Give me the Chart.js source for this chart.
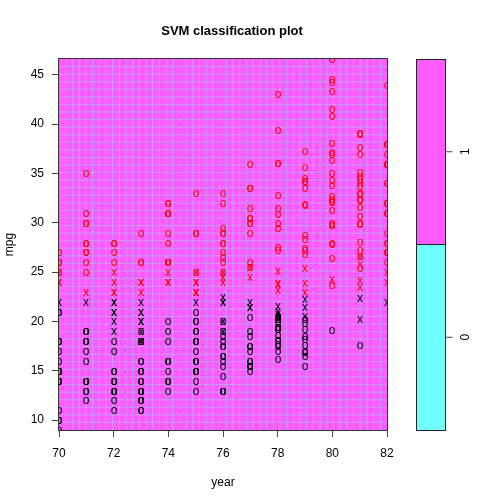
<!DOCTYPE html>
<html><head><meta charset="utf-8">
<script src="https://cdn.jsdelivr.net/npm/chart.js@4/dist/chart.umd.min.js"></script>
<style>html,body{margin:0;padding:0;background:#fff}canvas{display:block}</style>
</head><body>
<canvas id="c" width="504" height="504"></canvas>
<script>
// ---- data (mpg by model year; symbol codes: o = class 0 point, x = class 0 support vector,
//      O = class 1 point, X = class 1 support vector) ----
const years = [70,71,72,73,74,75,76,77,78,79,80,81,82];
const mpg70 = [18,15,18,16,17,15,14,14,14,15,15,14,15,14,24,22,18,21,27,26,25,24,25,26,21,10,10,11,9];
const sym70 = "ooooooooooooooXxooOOXXOOooooo";
const mpg71 = [27,28,25,19,16,17,19,18,14,14,14,14,12,13,13,18,22,19,18,23,28,30,30,31,35,27,26];
const sym71 = "OOOoooooooooooooxooXOOOOOOO";
const mpg72 = [24,25,23,20,21,13,14,15,14,17,11,13,12,13,19,15,13,13,14,18,22,21,26,22,28,23,28,27];
const sym72 = "XXXxxoooooooooxoooooxxOxOXOO";
const mpg73 = [13,14,13,14,15,12,13,13,14,13,12,13,18,16,18,18,23,26,11,12,13,12,18,20,21,22,18,19,21,26,15,16,29,24,20,19,15,24,20,11];
const sym73 = "ooooooooooooxooxXOoooooxxxoxxOooOXxooXxo";
const mpg74 = [20,19,15,31,26,32,25,16,16,18,16,13,14,14,14,29,26,26,31,32,28,24,26,24,26,31];
const sym74 = "oooOOOXooooooooOOOOOOXOXOO";
const mpg75 = [19,18,15,15,16,15,16,14,17,16,15,18,21,20,13,29,23,20,23,24,25,24,18,29,19,23,23,22,25,33];
const sym75 = "oooooooooooooooOXoXXXXoOoXXxOO";
const mpg76 = [28,25,25,26,27,17.5,16,15.5,14.5,22,22,24,22.5,29,24.5,29,33,20,18,18.5,17.5,29.5,32,28,26.5,20,13,19,19,16.5,16.5,13,13,13];
const sym76 = "OXOOOooooxxXxOXOOxoooOOOOooxoooooo";
const mpg77 = [17.5,17,15.5,15,17.5,20.5,19,18.5,16,15.5,15.5,16,29,24.5,26,25.5,30.5,33.5,30,30.5,22,21.5,21.5,36,25.5,33.5,31.5,30];
const sym77 = "ooooooooooooOXOXOOOOxxxOOOOO";
const mpg78 = [43.1,36.1,32.8,39.4,36.1,19.9,19.4,20.2,19.2,20.5,20.2,25.1,20.5,19.4,20.6,20.8,18.6,18.1,19.2,17.7,18.1,17.5,30,27.5,27.2,30.9,21.1,23.2,23.8,23.9,20.3,17,21.6,16.2,31.5,29.5];
const sym78 = "OOOOOooooxoXoooxooooooOOOOxXXXooxoOO";
const mpg79 = [21.5,19.8,22.3,20.2,20.6,17,17.6,16.5,18.2,16.9,15.5,19.2,18.5,31.9,34.1,35.7,27.4,25.4,23,27.2,23.9,34.2,34.5,31.8,37.3,28.4,28.8,26.8,33.5];
const sym79 = "xoxoxooooooooOOOOXXOXOOOOOOOO";
const mpg80 = [41.5,38.1,32.1,37.2,28,26.4,24.3,19.1,34.3,29.8,31.3,37,32.2,46.6,27.9,40.8,44.3,43.4,36.4,30,44.6,33.8,29.8,32.7,23.7,35,32.4];
const sym80 = "OOOOOOXoOOOOOOOOOOOOOOOOOOO";
const mpg81 = [27.2,26.6,25.8,23.5,30,39.1,39,35.1,32.3,37,37.7,34.1,34.7,34.4,29.9,33,33.7,32.4,32.9,31.6,28.1,30.7,25.4,24.2,22.4,26.6,20.2,17.6];
const sym81 = "OOXXOOOOOOOOOOOOOOOOOOOXxXxo";
const mpg82 = [28,27,34,31,29,27,24,36,37,31,38,36,36,36,34,38,32,38,25,38,26,22,32,36,27,27,44,32,28,31];
const sym82 = "OOOOOOXOOOOOOOOOOOXOOxOOOOOOOO";

const mpgByYear = [mpg70,mpg71,mpg72,mpg73,mpg74,mpg75,mpg76,mpg77,mpg78,mpg79,mpg80,mpg81,mpg82];
const symByYear = [sym70,sym71,sym72,sym73,sym74,sym75,sym76,sym77,sym78,sym79,sym80,sym81,sym82];

const xTicks = [70,72,74,76,78,80,82];
const yTicks = [10,15,20,25,30,35,40,45];
const keyLabels = ["0","1"];

// ---- styling ----
const FONT = '"Liberation Sans", Arial, Helvetica, sans-serif';
const MAGENTA = '#FF5AFF';
const CYAN = '#70FFFF';
const GRIDCOL = 'rgba(165,195,255,0.6)';

function glyph(ch, color){
  const c = document.createElement('canvas');
  c.width = 14; c.height = 14;
  const g = c.getContext('2d');
  g.font = '12px ' + FONT;
  g.fillStyle = color;
  g.textAlign = 'center';
  g.textBaseline = 'alphabetic';
  const m = g.measureText(ch);
  const a = m.actualBoundingBoxAscent, d = m.actualBoundingBoxDescent;
  g.fillText(ch, 7, Math.round(7 + (a - d) / 2));
  return c;
}
const styles = {o: glyph('o','#000000'), x: glyph('x','#000000'), O: glyph('o','#FF0000'), X: glyph('x','#FF0000')};

const groups = {o:[], x:[], O:[], X:[]};
years.forEach((yr, i) => {
  const vals = mpgByYear[i], syms = symByYear[i];
  vals.forEach((v, j) => { groups[syms[j]].push({x: yr, y: v}); });
});
const datasets = ['o','x','O','X'].map(k => ({
  data: groups[k], pointStyle: styles[k], pointRadius: 3, showLine: false, clip: 0
}));

const bgPlugin = {
  id: 'bg',
  beforeDatasetsDraw(chart){
    const {ctx, chartArea: a} = chart;
    ctx.save();
    ctx.fillStyle = MAGENTA;
    ctx.fillRect(a.left, a.top, a.right - a.left, a.bottom - a.top);
    ctx.strokeStyle = GRIDCOL; ctx.lineWidth = 1;
    const n = 49;
    const w = (a.right - a.left) / n, h = (a.bottom - a.top) / n;
    ctx.beginPath();
    for (let i = 1; i < n; i++){
      const x = a.left + i * w; ctx.moveTo(x, a.top); ctx.lineTo(x, a.bottom);
      const y = a.top + i * h; ctx.moveTo(a.left, y); ctx.lineTo(a.right, y);
    }
    ctx.stroke();
    ctx.restore();
    ctx.imageSmoothingEnabled = false;
  },
  afterDatasetsDraw(chart){
    const {ctx, chartArea: a} = chart;
    ctx.imageSmoothingEnabled = true;
    ctx.save();
    ctx.strokeStyle = '#333'; ctx.lineWidth = 1;
    ctx.strokeRect(a.left - 0.5, a.top - 0.5, a.right - a.left + 1, a.bottom - a.top + 1);
    ctx.restore();
  },
  afterDraw(chart){
    const {ctx, chartArea: a} = chart;
    ctx.save();
    ctx.fillStyle = '#000';
    ctx.textAlign = 'center'; ctx.textBaseline = 'middle';
    ctx.font = 'bold 13px ' + FONT;
    ctx.fillText('SVM classification plot', 232, 31);
    ctx.font = '12px ' + FONT;
    ctx.fillText('year', (a.left + a.right) / 2, 483);
    ctx.save();
    ctx.translate(10, (a.top + a.bottom) / 2);
    ctx.rotate(-Math.PI / 2);
    ctx.fillText('mpg', 0, 0);
    ctx.restore();
    // key bar
    const kl = 416, kr = 445, kt = a.top, kb = a.bottom, km = (kt + kb) / 2;
    ctx.fillStyle = MAGENTA; ctx.fillRect(kl, kt, kr - kl, km - kt);
    ctx.fillStyle = CYAN; ctx.fillRect(kl, km, kr - kl, kb - km);
    ctx.strokeStyle = '#222'; ctx.lineWidth = 1;
    ctx.strokeRect(kl + 0.5, kt + 0.5, kr - kl, kb - kt);
    ctx.beginPath(); ctx.moveTo(kl, km); ctx.lineTo(kr, km); ctx.stroke();
    const centers = [(km + kb) / 2, (kt + km) / 2];
    ctx.strokeStyle = '#444';
    centers.forEach((cy, i) => {
      ctx.beginPath(); ctx.moveTo(kr + 0.5, cy); ctx.lineTo(kr + 7.5, cy); ctx.stroke();
      ctx.save();
      ctx.translate(466, cy);
      ctx.rotate(-Math.PI / 2);
      ctx.fillStyle = '#000';
      ctx.fillText(keyLabels[i], 0, 0);
      ctx.restore();
    });
    ctx.restore();
  }
};

new Chart(document.getElementById('c'), {
  type: 'scatter',
  data: {datasets},
  options: {
    responsive: false, animation: false, devicePixelRatio: 1,
    layout: {padding: {top: 59, right: 117, left: 0, bottom: 0}},
    plugins: {legend: {display: false}, tooltip: {enabled: false}, title: {display: false}},
    scales: {
      x: {
        type: 'linear', min: 70, max: 82,
        afterFit(s){ s.height = 74; },
        afterBuildTicks(s){ s.ticks = xTicks.map(v => ({value: v})); },
        grid: {drawOnChartArea: false, drawTicks: true, tickLength: 7, color: '#444', tickColor: '#444'},
        border: {display: false},
        ticks: {padding: 9, color: '#000', font: {family: FONT, size: 12}, maxRotation: 0, autoSkip: false}
      },
      y: {
        type: 'linear', min: 9, max: 46.6,
        afterFit(s){ s.width = 59; },
        afterBuildTicks(s){ s.ticks = yTicks.map(v => ({value: v})); },
        grid: {drawOnChartArea: false, drawTicks: true, tickLength: 7, color: '#444', tickColor: '#444'},
        border: {display: false},
        ticks: {padding: 8, color: '#000', font: {family: FONT, size: 12}, autoSkip: false}
      }
    }
  },
  plugins: [bgPlugin]
});
</script>
</body></html>
